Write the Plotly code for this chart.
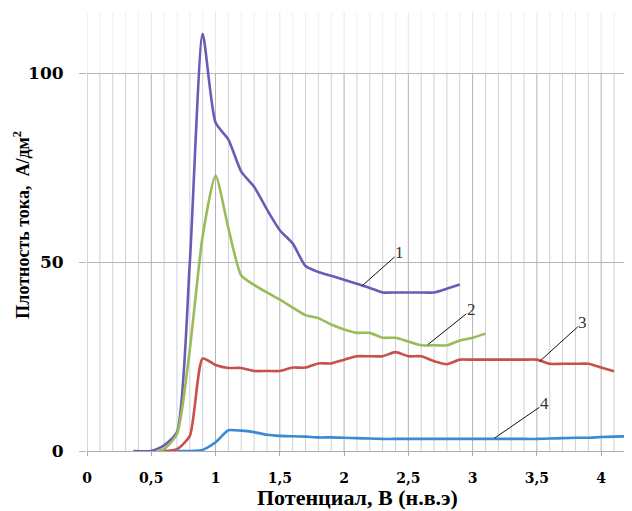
import plotly.graph_objects as go

# ---------------- data ----------------
x1 = [0.36, 0.5, 0.6, 0.7, 0.8, 0.9, 1.0, 1.1, 1.2, 1.3, 1.4, 1.5, 1.6, 1.7, 1.8, 1.9, 2.0, 2.1, 2.2, 2.3, 2.4, 2.5, 2.6, 2.7, 2.8, 2.9]
y1 = [0, 0, 1.5, 5, 50, 110.5, 87, 82.5, 74, 70, 64, 58.5, 55, 49, 47.4, 46.4, 45.4, 44.3, 43.2, 42, 42, 42, 42, 42, 43, 44.1]

x2 = [0.55, 0.6, 0.7, 0.8, 0.9, 1.0, 1.1, 1.2, 1.3, 1.4, 1.5, 1.6, 1.7, 1.8, 1.9, 2.0, 2.1, 2.2, 2.3, 2.4, 2.5, 2.6, 2.7, 2.8, 2.9, 3.0, 3.1]
y2 = [0, 0.5, 4.5, 27, 57, 73, 59, 46.5, 44, 42, 40.1, 38, 36, 35.2, 33.5, 32.2, 31.3, 31.3, 30, 30, 29, 28, 28, 28, 29.3, 30, 31.1]

x3 = [0.6, 0.7, 0.8, 0.9, 1.0, 1.1, 1.2, 1.3, 1.4, 1.5, 1.6, 1.7, 1.8, 1.9, 2.0, 2.1, 2.2, 2.3, 2.4, 2.5, 2.6, 2.7, 2.8, 2.9, 3.0, 3.1, 3.2, 3.3, 3.4, 3.5, 3.6, 3.7, 3.8, 3.9, 4.0, 4.1]
y3 = [0, 0.5, 4, 24.5, 22.8, 22.0, 22.0, 21.2, 21.2, 21.2, 22.1, 22.1, 23.2, 23.2, 24.2, 25.1, 25.1, 25.1, 26.2, 25.1, 25.1, 23.8, 23.0, 24.2, 24.2, 24.2, 24.2, 24.2, 24.2, 24.2, 23.1, 23.1, 23.1, 23.1, 22.1, 21.1]

x4 = [0.7, 0.8, 0.9, 1.0, 1.1, 1.2, 1.3, 1.4, 1.5, 1.6, 1.7, 1.8, 1.9, 2.0, 2.1, 2.2, 2.3, 2.4, 2.5, 2.6, 2.7, 2.8, 2.9, 3.0, 3.1, 3.2, 3.3, 3.4, 3.5, 3.6, 3.7, 3.8, 3.9, 4.0, 4.1, 4.2]
y4 = [0, 0, 0.3, 2.3, 5.5, 5.4, 5.0, 4.3, 4.0, 3.9, 3.8, 3.6, 3.6, 3.5, 3.4, 3.3, 3.2, 3.2, 3.2, 3.2, 3.2, 3.2, 3.2, 3.2, 3.2, 3.2, 3.2, 3.2, 3.2, 3.3, 3.4, 3.5, 3.5, 3.7, 3.8, 3.9]

series_colors = ["#6A5CB4", "#9BBB59", "#C8504D", "#3A8AD4"]

# callout labels: text, point on curve, text position
label_texts = ["1", "2", "3", "4"]
label_px = [2.142, 2.652, 3.52, 3.17]
label_py = [43.8, 28.2, 23.7, 3.4]
label_tx = [2.432, 2.99, 3.857, 3.559]
label_ty = [52.6, 37.4, 34.1, 12.5]

x_tickvals = [0, 0.5, 1, 1.5, 2, 2.5, 3, 3.5, 4]
x_ticktext = ["0", "0,5", "1", "1,5", "2", "2,5", "3", "3,5", "4"]
y_tickvals = [0, 50, 100]
y_ticktext = ["0", "50", "100"]

x_title = "Потенциал, В (н.в.э)"
y_title = "Плотность тока,  А/дм<sup>2</sup>"

X_MAX = 4.24
Y_MAX = 116.3

fig = go.Figure()
for xs, ys, c in zip([x1, x2, x3, x4], [y1, y2, y3, y4], series_colors):
    fig.add_trace(go.Scatter(x=xs, y=ys, mode="lines",
                             line=dict(color=c, width=2.6, shape="spline", smoothing=0.6),
                             showlegend=False, hoverinfo="skip"))

# vertical grid (minor every 0.1, major every 0.5), faint above 100
shapes = []
for i in range(0, 43):
    gx = i / 10
    major = (i % 5 == 0)
    shapes.append(dict(type="line", xref="x", yref="y", x0=gx, x1=gx, y0=0, y1=100,
                       line=dict(color="#aeb2b7" if major else "#cdd1d6", width=1), layer="below"))
    shapes.append(dict(type="line", xref="x", yref="y", x0=gx, x1=gx, y0=100, y1=Y_MAX,
                       line=dict(color="#e6e8eb" if major else "#f0f1f3", width=1), layer="below"))

annotations = []
for t, px, py, tx, ty in zip(label_texts, label_px, label_py, label_tx, label_ty):
    annotations.append(dict(x=px, y=py, xref="x", yref="y", ax=tx, ay=ty, axref="x", ayref="y",
                            text=t, showarrow=True, arrowhead=0, arrowwidth=1, arrowcolor="#111111",
                            font=dict(family="Liberation Serif", size=17, color="#333333"),
                            borderpad=0))

annotations.append(dict(text=x_title, xref="paper", yref="paper", x=0.496, y=-0.1048,
                        xanchor="center", yanchor="middle", showarrow=False,
                        font=dict(family="Liberation Serif", size=22, color="black", weight="bold")))
annotations.append(dict(text=y_title, xref="paper", yref="paper", x=-0.1193, y=0.5155,
                        xanchor="center", yanchor="middle", showarrow=False, textangle=-90,
                        font=dict(family="Liberation Serif", size=18, color="black", weight="bold")))

# page body has an 8px margin: size/margins compensate so the plot lands where the reference has it
fig.update_layout(
    width=624, height=503,
    margin=dict(l=79, r=0, t=4, b=60),
    paper_bgcolor="white", plot_bgcolor="white",
    shapes=shapes, annotations=annotations,
    xaxis=dict(range=[0, X_MAX], tickvals=x_tickvals, ticktext=x_ticktext,
               showgrid=False, zeroline=False, showline=True, linecolor="#a8acb1", linewidth=1,
               ticks="outside", ticklen=4, tickcolor="#a8acb1", ticklabelstandoff=10,
               tickfont=dict(family="DejaVu Serif", size=14, color="black", weight="bold")),
    yaxis=dict(range=[0, Y_MAX], tickvals=y_tickvals, ticktext=y_ticktext,
               showgrid=True, gridcolor="#b4b7bb", gridwidth=1, zeroline=False, showline=False,
               ticks="outside", ticklen=7, tickcolor="#b4b7bb", ticklabelstandoff=12,
               tickfont=dict(family="DejaVu Serif", size=17, color="black", weight="bold")),
)

fig.write_html("out.html")
